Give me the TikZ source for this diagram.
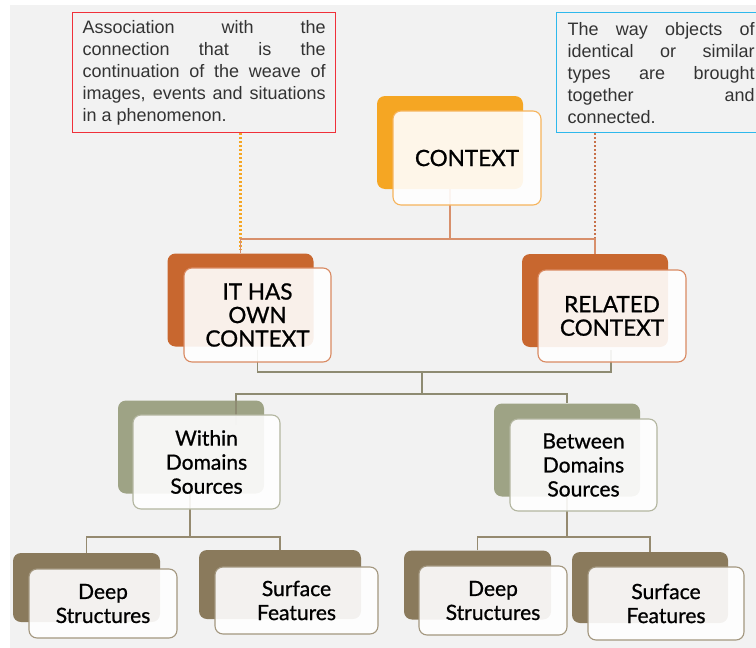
\documentclass[tikz,border=0pt]{standalone}
\usepackage{fontspec}
\usepackage{xcolor}
\usepackage{tikz}
\usetikzlibrary{calc}

\newfontfamily\notefont{Liberation Sans}
\newfontfamily\boxfont[FakeBold=0.9]{Lato}

\definecolor{bggray}{HTML}{F2F2F2}
\definecolor{ctxorange}{HTML}{F5A623}
\definecolor{ctxedge}{HTML}{F6B45C}
\definecolor{sienna}{HTML}{C8672F}
\definecolor{siennaedge}{HTML}{D98A62}
\definecolor{sage}{HTML}{9EA385}
\definecolor{sageedge}{HTML}{B3B6A0}
\definecolor{umber}{HTML}{8A7A5C}
\definecolor{umberedge}{HTML}{A3977F}
\definecolor{notered}{HTML}{F0313A}
\definecolor{noteblue}{HTML}{2EB8EC}
\definecolor{notetext}{HTML}{333333}
\definecolor{topline}{HTML}{D8906C}
\definecolor{midline}{HTML}{8E8B72}
\definecolor{lowline}{HTML}{958A70}
\definecolor{dotbrown}{HTML}{C7714A}

\begin{document}
\begin{tikzpicture}[
    x=1pt, y=-1pt,
    backbox/.style={rectangle, rounded corners=8pt, minimum width=146pt, minimum height=93pt},
    frontbox/.style={rectangle, rounded corners=8pt, draw, line width=1.1pt, fill=white, fill opacity=0.9, text opacity=1,
        minimum width=148pt, minimum height=94pt, align=center, font=\boxfont\fontsize{21}{24}\selectfont},
    capsbox/.style={font=\boxfont\fontsize{22.5}{23.5}\selectfont},
    lowbox/.style={minimum height=69pt},
    note/.style={rectangle, draw, line width=1.2pt, anchor=north west, inner xsep=10pt, inner ysep=7pt,
        minimum height=120pt, align=justify, text=notetext, font=\notefont\fontsize{18}{22}\selectfont},
    link/.style={line width=1.3pt},
    dotlink/.style={line width=2.8pt, dash pattern=on 2.2pt off 1.8pt},
]

% Background
\clip (0,0) rectangle (756,648);
\fill[white] (0,0) rectangle (756,648);
\fill[bggray] (10,5) rectangle (756,648);

% Notes
\node[note, draw=notered, text width=243pt] (assoc) at (72,12)
    {Association with the\linebreak connection that is the\linebreak continuation of the weave of\linebreak images, events and situations\linebreak in a phenomenon.};
\node[note, draw=noteblue, text width=187pt, inner xsep=11pt] (way) at (556,12)
    {The way objects of\linebreak identical or similar\linebreak types are brought\linebreak together and\linebreak connected.};

% Back boxes
\node[backbox, fill=ctxorange] (ctx-b) at (450,142.5) {};
\node[backbox, fill=sienna] (own-b) at (240.5,300) {};
\node[backbox, fill=sienna] (rel-b) at (595,300.5) {};
\node[backbox, fill=sage] (within-b) at (191,447) {};
\node[backbox, fill=sage] (between-b) at (567,450) {};
\node[backbox, lowbox, fill=umber, minimum width=147pt] (deep1-b) at (86.5,587.5) {};
\node[backbox, lowbox, fill=umber, minimum width=162pt] (surf1-b) at (280,584.5) {};
\node[backbox, lowbox, fill=umber, minimum width=147pt] (deep2-b) at (477.5,585) {};
\node[backbox, lowbox, fill=umber, minimum width=156pt, minimum height=71pt] (surf2-b) at (650,587.5) {};

% Junctions
\coordinate (j-top) at (450,239);
\coordinate (j-mid) at (422,372);
\coordinate (j-src) at (422,394);
\coordinate (j-within) at (190,537);
\coordinate (j-between) at (567,537);

% Dotted links from the notes
\draw[dotlink, ctxorange] (assoc.south -| own-b.north) -- ($(own-b.north)+(0,-4)$);
\draw[dotlink, dotbrown] (way.south -| rel-b.north) -- ($(rel-b.north)+(0,-4)$);

% Context links
\draw[link, topline] (ctx-b.south) -- (j-top);
\draw[link, topline] (own-b.north) -- (own-b.north |- j-top) -- (rel-b.north |- j-top) -- (rel-b.north);

% Links to the sources
\draw[link, midline] (257.5,350) -- (257.5,372) -- (j-mid) -- (611,372) -- (611,350);
\draw[link, midline] (j-mid) -- (j-src);
\draw[link, midline] (236,425) -- (236,394) -- (j-src) -- (between-b.north |- j-src) -- (between-b.north);

% Links to the features
\draw[link, lowline] (within-b.south -| j-within) -- (j-within);
\draw[link, lowline] (deep1-b.north) -- (deep1-b.north |- j-within) -- (surf1-b.north |- j-within) -- (surf1-b.north);
\draw[link, lowline] (between-b.south) -- (j-between);
\draw[link, lowline] (deep2-b.north) -- (deep2-b.north |- j-between) -- (surf2-b.north |- j-between) -- (surf2-b.north);

% Front boxes
\node[frontbox, capsbox, draw=ctxedge] (ctx) at (467,158) {CONTEXT};
\node[frontbox, capsbox, draw=siennaedge, minimum width=147pt] (own) at (257.5,315) {IT HAS\\OWN\\CONTEXT};
\node[frontbox, capsbox, draw=siennaedge, minimum height=92pt] (rel) at (612,316) {RELATED\\CONTEXT};
\node[frontbox, draw=sageedge, minimum width=147pt] (within) at (206.5,462) {Within\\Domains\\Sources};
\node[frontbox, draw=sageedge, minimum width=147pt, minimum height=92pt] (between) at (583.5,465) {Between\\Domains\\Sources};
\node[frontbox, lowbox, draw=umberedge] (deep1) at (103,603.5) {Deep\\Structures};
\node[frontbox, lowbox, draw=umberedge, minimum width=163pt, minimum height=67pt] (surf1) at (296.5,600.5) {Surface\\Features};
\node[frontbox, lowbox, draw=umberedge] (deep2) at (493,600.5) {Deep\\Structures};
\node[frontbox, lowbox, draw=umberedge, minimum width=156pt, minimum height=73pt] (surf2) at (666,603.5) {Surface\\Features};

\end{tikzpicture}
\end{document}
